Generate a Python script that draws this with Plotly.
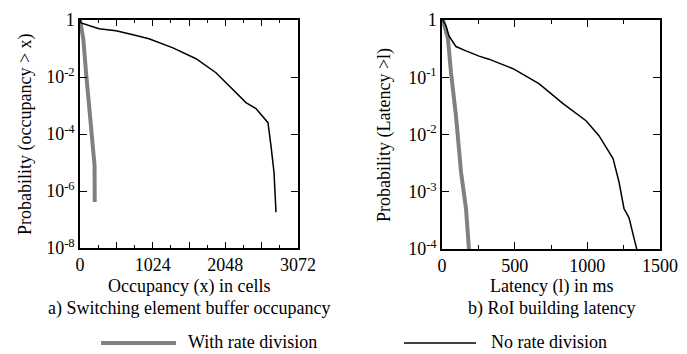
import plotly.graph_objects as go

# ---- data ----
occ_rate_x = [0, 47, 85, 131, 169, 197, 205, 207]
occ_rate_p = [1, 0.21, 0.0145, 9.8e-4, 1.0e-4, 2.3e-5, 8e-6, 4.1e-7]

occ_norate_x = [0, 14, 268, 507, 747, 972, 1310, 1451, 1635, 1916, 2100, 2339, 2480, 2649, 2691, 2734, 2762]
occ_norate_p = [1, 0.785, 0.49, 0.417, 0.302, 0.219, 0.105, 0.0708, 0.0437, 0.0141, 0.0049,
                0.00126, 7.8e-4, 2.5e-4, 3.9e-5, 4.5e-6, 1.8e-7]

lat_rate_x = [7, 41, 62, 96, 131, 165, 186]
lat_rate_p = [1, 0.47, 0.12, 0.0214, 0.0022, 5.1e-4, 9.5e-5]

lat_norate_x = [5, 28, 48, 62, 96, 165, 255, 323, 489, 667, 833, 991, 1080, 1177, 1218, 1252, 1287, 1321, 1342]
lat_norate_p = [1, 0.787, 0.525, 0.46, 0.344, 0.289, 0.234, 0.207, 0.141, 0.0776, 0.0347, 0.0174,
                0.00955, 0.0038, 0.00148, 5.1e-4, 3.5e-4, 1.55e-4, 9.5e-5]

occ_ticks = [0, 512, 1024, 1536, 2048, 2560, 3072]
occ_ticklabels = ["0", "", "1024", "", "2048", "", "3072"]
lat_ticks = [0, 500, 1000, 1500]
lat_ticklabels = ["0", "500", "1000", "1500"]
occ_yticks = [1e-8, 1e-6, 1e-4, 1e-2, 1]
occ_yticklabels = ["10<sup>-8</sup>", "10<sup>-6</sup>", "10<sup>-4</sup>", "10<sup>-2</sup>", "1"]
lat_yticks = [1e-4, 1e-3, 1e-2, 1e-1, 1]
lat_yticklabels = ["10<sup>-4</sup>", "10<sup>-3</sup>", "10<sup>-2</sup>", "10<sup>-1</sup>", "1"]

legend_names = ["With rate division", "No rate division"]
captions = ["a) Switching element buffer occupancy", "b) RoI building latency"]

GREY = "#808080"
FONT = "Liberation Serif, Times New Roman, Times, serif"
W, H = 687, 354

fig = go.Figure()
fig.add_trace(go.Scatter(x=occ_rate_x, y=occ_rate_p, mode="lines", line=dict(color=GREY, width=4),
                         xaxis="x", yaxis="y", showlegend=False, name=legend_names[0]))
fig.add_trace(go.Scatter(x=occ_norate_x, y=occ_norate_p, mode="lines", line=dict(color="black", width=1.5),
                         xaxis="x", yaxis="y", showlegend=False, name=legend_names[1]))
fig.add_trace(go.Scatter(x=lat_rate_x, y=lat_rate_p, mode="lines", line=dict(color=GREY, width=4),
                         xaxis="x2", yaxis="y2", showlegend=False, name=legend_names[0]))
fig.add_trace(go.Scatter(x=lat_norate_x, y=lat_norate_p, mode="lines", line=dict(color="black", width=1.5),
                         xaxis="x2", yaxis="y2", showlegend=False, name=legend_names[1]))

def px(x):
    return x / W

def py(y):
    return 1 - y / H

axis_common = dict(showline=True, linecolor="black", linewidth=1.5, mirror="ticks", ticks="inside",
                   tickcolor="black", tickwidth=1, showgrid=False, zeroline=False, automargin=False,
                   tickfont=dict(family=FONT, size=18, color="black"))

fig.update_layout(
    width=W, height=H, margin=dict(l=0, r=0, t=0, b=0, autoexpand=False),
    paper_bgcolor="white", plot_bgcolor="white", showlegend=False,
    font=dict(family=FONT, size=18, color="black"),
    xaxis=dict(domain=[px(72), px(290)], range=[0, 3072], tickmode="array", tickvals=occ_ticks,
               ticktext=occ_ticklabels, ticklen=6, anchor="y",
               minor=dict(tickvals=[256, 768, 1280, 1792, 2304, 2816], ticklen=3, ticks="inside",
                          tickcolor="black"),
               **axis_common),
    yaxis=dict(domain=[py(240), py(12)], type="log", range=[-8, 0], tickmode="array", tickvals=occ_yticks,
               ticktext=occ_yticklabels, ticklen=7, anchor="x", **axis_common),
    xaxis2=dict(domain=[px(434), px(652)], range=[0, 1500], tickmode="array", tickvals=lat_ticks,
                ticktext=lat_ticklabels, ticklen=7, anchor="y2",
                minor=dict(tickvals=[250, 750, 1250], ticklen=4, ticks="inside", tickcolor="black"),
                **axis_common),
    yaxis2=dict(domain=[py(241), py(12)], type="log", range=[-4, 0], tickmode="array", tickvals=lat_yticks,
                ticktext=lat_yticklabels, ticklen=7, anchor="x2", **axis_common),
)

ann = []
# axis titles
ann.append(dict(text="Occupancy (x) in cells", x=px(181), y=py(278), showarrow=False))
ann.append(dict(text="Latency (l) in ms", x=px(543), y=py(278), showarrow=False))
ann.append(dict(text="Probability (occupancy > x)", x=px(18), y=py(126), textangle=-90, showarrow=False))
ann.append(dict(text="Probability (Latency >l)", x=px(376), y=py(127), textangle=-90, showarrow=False))
# captions
ann.append(dict(text=captions[0], x=px(181), y=py(300), showarrow=False))
ann.append(dict(text=captions[1], x=px(543), y=py(300), showarrow=False))
# legend texts
ann.append(dict(text=legend_names[0], x=px(178), y=py(334), xanchor="left", showarrow=False))
ann.append(dict(text=legend_names[1], x=px(481), y=py(334), xanchor="left", showarrow=False))
for a in ann:
    a.update(xref="paper", yref="paper", font=dict(family=FONT, size=18, color="black"))
    a.setdefault("xanchor", "center")
    a["yanchor"] = "middle"
fig.update_layout(annotations=ann)

fig.add_shape(type="line", xref="paper", yref="paper", x0=px(93), x1=px(168), y0=py(335), y1=py(335),
              line=dict(color=GREY, width=4))
fig.add_shape(type="line", xref="paper", yref="paper", x0=px(396), x1=px(468), y0=py(335), y1=py(335),
              line=dict(color="black", width=1.5))

fig.write_html("out.html")
